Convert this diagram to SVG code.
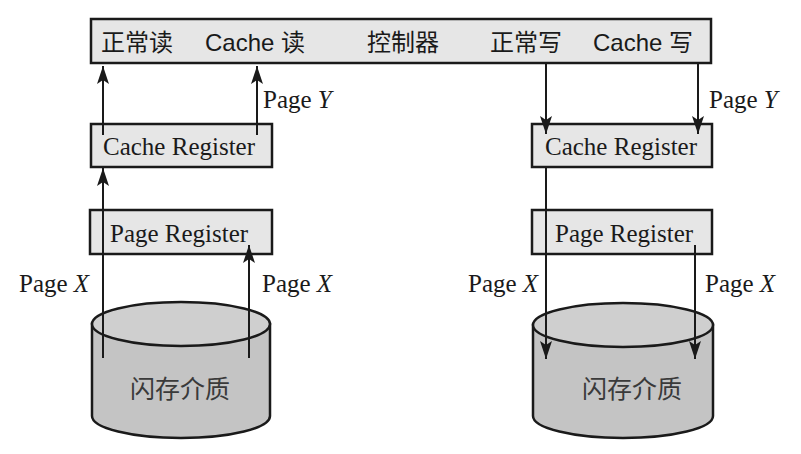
<svg xmlns="http://www.w3.org/2000/svg" width="801" height="454" viewBox="0 0 801 454">
<style>
.box{fill:#e6e6e6;stroke:#1a1a1a;stroke-width:2.5}
.cylb{fill:#c4c4c4;stroke:#1a1a1a;stroke-width:2.5}
.cylt{fill:#cfcfcf;stroke:#1a1a1a;stroke-width:2.5}
.sans{font-family:"Liberation Sans","Noto Sans CJK SC",sans-serif;font-size:24px;fill:#1a1a1a}
.serif{font-family:"Liberation Serif","Noto Sans CJK SC",serif;font-size:25px;fill:#1a1a1a}
.cjk{font-family:"Noto Sans CJK SC",sans-serif;font-size:25px;fill:#3a3a3a}
.it{font-style:italic}
.ln{stroke:#1a1a1a;stroke-width:2;fill:none;marker-end:url(#ah)}
</style>
<defs>
<marker id="ah" markerUnits="userSpaceOnUse" markerWidth="18" markerHeight="12" viewBox="0 0 18 12" refX="18" refY="6" orient="auto">
<path d="M0,0 L18,6 L0,12 L4,6 z" fill="#1a1a1a"/>
</marker>
</defs>
<rect width="801" height="454" fill="#ffffff"/>
<g id="controller">
<rect class="box" x="91" y="19" width="620" height="44"/>
<text class="sans" x="101" y="51">正常读</text>
<text class="sans" x="205" y="51">Cache 读</text>
<text class="sans" x="367" y="51">控制器</text>
<text class="sans" x="490" y="51">正常写</text>
<text class="sans" x="593" y="51">Cache 写</text>
</g>
<g id="cache-reg-left">
<rect class="box" x="91" y="124" width="181" height="43"/>
<text class="serif" x="103" y="155">Cache Register</text>
</g>
<g id="page-reg-left">
<rect class="box" x="90" y="210" width="182" height="44"/>
<text class="serif" x="110" y="242">Page Register</text>
</g>
<g id="flash-left">
<path class="cylb" d="M92,324 L92,416 A89,22 0 0 0 270,416 L270,324 Z"/>
<ellipse class="cylt" cx="181" cy="324" rx="89" ry="22"/>
<text class="cjk" x="180" y="398" text-anchor="middle">闪存介质</text>
</g>
<g id="cache-reg-right">
<rect class="box" x="532" y="124" width="180" height="43"/>
<text class="serif" x="545" y="155">Cache Register</text>
</g>
<g id="page-reg-right">
<rect class="box" x="532" y="210" width="180" height="44"/>
<text class="serif" x="555" y="242">Page Register</text>
</g>
<g id="flash-right">
<path class="cylb" d="M533,325 L533,416 A90,22 0 0 0 713,416 L713,325 Z"/>
<ellipse class="cylt" cx="623" cy="325" rx="90" ry="22"/>
<text class="cjk" x="632" y="398" text-anchor="middle">闪存介质</text>
</g>
<g id="connectors">
<line class="ln" x1="103" y1="135" x2="103" y2="66"/>
<line class="ln" x1="257" y1="135" x2="257" y2="66"/>
<line class="ln" x1="103" y1="358" x2="103" y2="168"/>
<line class="ln" x1="249" y1="358" x2="249" y2="245"/>
<line class="ln" x1="546" y1="63" x2="546" y2="134"/>
<line class="ln" x1="698" y1="63" x2="698" y2="134"/>
<line class="ln" x1="546" y1="167" x2="546" y2="359"/>
<line class="ln" x1="695" y1="245" x2="695" y2="359"/>
</g>
<g id="labels">
<text class="serif" x="263" y="108">Page <tspan class="it">Y</tspan></text>
<text class="serif" x="709" y="108">Page <tspan class="it">Y</tspan></text>
<text class="serif" x="19" y="292">Page <tspan class="it">X</tspan></text>
<text class="serif" x="262" y="292">Page <tspan class="it">X</tspan></text>
<text class="serif" x="468" y="292">Page <tspan class="it">X</tspan></text>
<text class="serif" x="705" y="292">Page <tspan class="it">X</tspan></text>
</g>
</svg>
